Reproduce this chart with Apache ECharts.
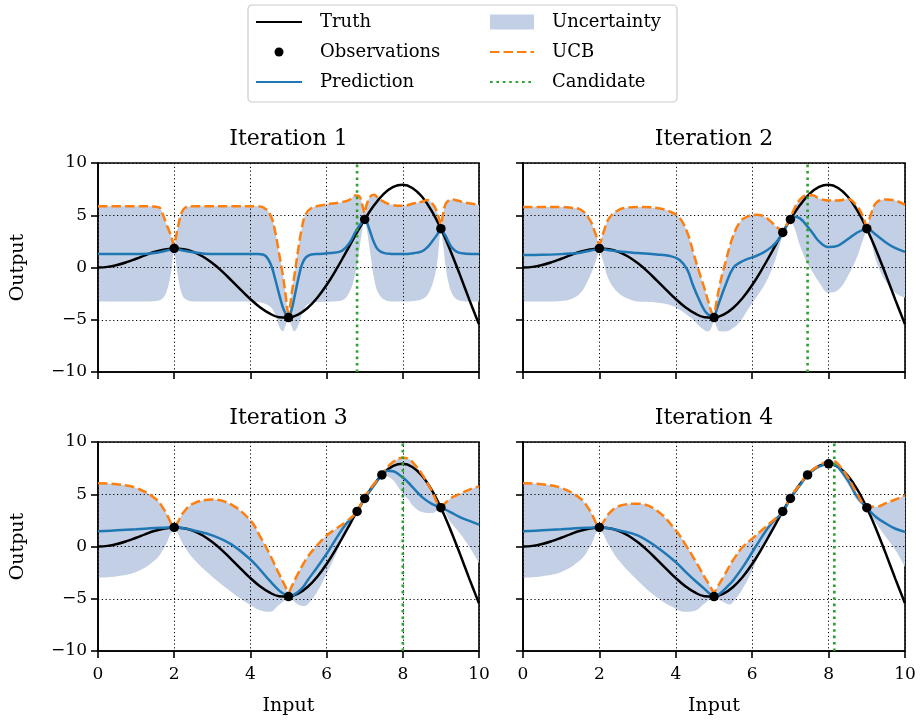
<!DOCTYPE html>
<html>
<head>
<meta charset="utf-8">
<script src="https://cdn.jsdelivr.net/npm/echarts@6/dist/echarts.min.js"></script>
<style>
  html, body { margin: 0; padding: 0; background: #ffffff; }
  #chart { width: 923px; height: 723px; }
</style>
</head>
<body>
<div id="chart"></div>
<script>
// ---- Ground-truth curve ----
const truthX = [0, 0.25, 0.5, 0.75, 1, 1.25, 1.5, 1.75, 2, 2.25, 2.5, 2.75, 3, 3.25, 3.5, 3.75, 4, 4.25, 4.5, 4.75,
  5, 5.25, 5.5, 5.75, 6, 6.25, 6.5, 6.75, 7, 7.25, 7.5, 7.75, 8, 8.25, 8.5, 8.75, 9, 9.25, 9.5, 9.75, 10];
const truthY = [0, 0.06, 0.24, 0.51, 0.84, 1.19, 1.5, 1.72, 1.82, 1.75, 1.5, 1.05, 0.42, -0.35, -1.23, -2.14, -3.03, -3.8, -4.4, -4.75,
  -4.79, -4.51, -3.88, -2.92, -1.68, -0.21, 1.4, 3.04, 4.6, 5.97, 7.04, 7.71, 7.91, 7.61, 6.79, 5.47, 3.71, 1.61, -0.71, -3.12, -5.44];

// ---- Observations (iteration k uses the first 3 + k points) ----
const obsX = [2, 5, 7, 9, 6.8, 7.45, 8.0];
const obsY = [1.82, -4.79, 4.6, 3.71, 3.36, 6.85, 7.91];

// ---- Next candidate proposed at each iteration ----
const candidates = [6.8, 7.45, 8.0, 8.15];
const iterTitles = ['Iteration 1', 'Iteration 2', 'Iteration 3', 'Iteration 4'];

// ---- Iteration 1 posterior ----
const xs1 = [0, 1, 1.3, 1.6, 1.7, 1.8, 1.9, 1.95, 2.0, 2.05, 2.1, 2.2, 2.3, 2.5, 2.8, 3.5, 4.2, 4.4, 4.55, 4.65,
  4.75, 4.85, 4.92, 5.0, 5.08, 5.15, 5.25, 5.35, 5.45, 5.6, 5.8, 6.1, 6.4, 6.6, 6.75, 6.85, 6.95, 7.0, 7.05, 7.15,
  7.25, 7.35, 7.5, 7.7, 8.0, 8.3, 8.5, 8.65, 8.8, 8.9, 8.95, 9.0, 9.05, 9.12, 9.2, 9.3, 9.45, 9.65, 10];
const mean1 = [1.28, 1.28, 1.32, 1.45, 1.53, 1.62, 1.72, 1.78, 1.82, 1.79, 1.74, 1.65, 1.57, 1.45, 1.32, 1.28, 1.28, 1.1, 0.15, -1.1,
  -2.5, -3.8, -4.4, -4.8, -4.05, -2.95, -1.2, 0.26, 0.95, 1.25, 1.3, 1.38, 1.6, 2.35, 3.35, 3.95, 4.4, 4.6, 4.4, 3.35,
  2.35, 1.72, 1.4, 1.3, 1.28, 1.38, 1.55, 1.95, 2.64, 3.15, 3.45, 3.71, 3.45, 3.05, 2.45, 1.85, 1.45, 1.32, 1.28];
const lower1 = [-3.25, -3.25, -3.25, -3.15, -2.95, -2.3, -0.85, 0.5, 1.65, 0.4, -0.9, -2.5, -3.05, -3.25, -3.25, -3.25, -3.3, -3.5, -3.85, -4.5,
  -5.6, -6.1, -5.6, -4.95, -5.6, -6.1, -5.6, -4.5, -3.7, -3.4, -3.3, -3.25, -3.15, -2.35, -0.6, 1.5, 3.9, 4.5, 3.76, 1.3,
  -1.1, -2.4, -3.05, -3.25, -3.25, -3.2, -3.05, -2.6, -1.34, 0.4, 2.17, 3.6, 2.4, 0.25, -1.45, -2.55, -3.12, -3.25, -3.25];
const ucb1 = [5.85, 5.85, 5.85, 5.75, 5.1, 4.1, 3.2, 2.6, 2.1, 3.0, 3.9, 5.3, 5.75, 5.85, 5.85, 5.85, 5.85, 5.6, 4.8, 3.45,
  1.4, -0.7, -2.5, -4.37, -2.6, -0.9, 1.6, 3.77, 5.1, 5.7, 5.9, 6.1, 6.25, 6.48, 6.9, 6.85, 5.8, 5.2, 6.0, 6.8,
  6.95, 6.65, 6.3, 6.0, 5.9, 6.15, 6.3, 6.45, 6.0, 5.3, 4.7, 4.1, 5.0, 6.05, 6.4, 6.5, 6.38, 6.2, 6.0];

// ---- Iteration 2 posterior ----
const xs2 = [0, 0.5, 1, 1.25, 1.5, 1.75, 1.9, 2.0, 2.1, 2.25, 2.5, 2.75, 3, 3.5, 3.85, 4.1, 4.3, 4.45, 4.6, 4.75,
  4.85, 4.95, 5.0, 5.05, 5.15, 5.3, 5.5, 5.7, 5.9, 6.1, 6.3, 6.5, 6.65, 6.8, 6.9, 7.0, 7.1, 7.25, 7.44, 7.6,
  7.75, 8, 8.25, 8.5, 8.75, 8.9, 9.0, 9.1, 9.25, 9.5, 9.75, 10];
const mean2 = [1.2, 1.22, 1.28, 1.33, 1.42, 1.6, 1.73, 1.82, 1.75, 1.65, 1.55, 1.45, 1.38, 1.25, 1.1, 0.72, -0.2, -1.7, -3.0, -4.1,
  -4.5, -4.75, -4.8, -4.25, -3.2, -1.7, -0.06, 0.52, 0.85, 1.1, 1.45, 1.95, 2.5, 3.3, 4.0, 4.6, 4.85, 4.7, 3.95, 3.2,
  2.5, 1.95, 2.1, 2.7, 3.35, 3.6, 3.71, 3.55, 3.1, 2.4, 1.85, 1.5];
const lower2 = [-3.25, -3.25, -3.2, -3.05, -2.45, -0.85, 0.55, 1.5, 0.55, -1.2, -2.45, -3.0, -3.25, -3.35, -3.6, -4.05, -4.55, -5.0, -5.55, -6.0,
  -6.12, -5.6, -4.85, -5.5, -6.1, -6.12, -5.8, -5.1, -3.95, -2.9, -1.8, -0.3, 1.25, 3.1, 3.92, 4.5, 3.85, 2.1, 0.45, -0.55,
  -1.4, -2.4, -2.15, -0.85, 1.05, 2.65, 3.4, 2.65, 0.55, -1.35, -2.45, -2.9];
const ucb2 = [5.8, 5.8, 5.8, 5.72, 5.55, 4.55, 3.2, 2.25, 3.3, 4.7, 5.5, 5.75, 5.8, 5.7, 5.35, 4.75, 3.35, 1.54, -0.3, -2.0,
  -3.25, -4.4, -4.5, -3.6, -1.66, 0.5, 3.0, 4.45, 4.92, 5.04, 4.9, 4.35, 3.85, 3.5, 4.08, 4.75, 5.6, 6.5, 6.95, 6.9,
  6.6, 6.4, 6.4, 6.55, 5.85, 4.9, 4.0, 5.0, 6.2, 6.5, 6.4, 6.0];

// ---- Iterations 3 and 4 posterior (shared input grid) ----
const xs34 = [0, 0.5, 1, 1.5, 1.75, 2, 2.25, 2.5, 3, 3.5, 4, 4.25, 4.5, 4.75, 4.9, 5, 5.1, 5.25, 5.4, 5.5,
  5.75, 6, 6.25, 6.5, 6.8, 7, 7.25, 7.45, 7.6, 7.75, 8, 8.15, 8.25, 8.5, 8.75, 9, 9.25, 9.5, 9.75, 10];
const mean3 = [1.45, 1.55, 1.65, 1.77, 1.8, 1.82, 1.75, 1.55, 1.07, 0.2, -1.25, -2.2, -3.25, -4.2, -4.6, -4.8, -4.7, -4.35, -3.8, -3.25,
  -2.0, -0.7, 0.75, 2.1, 3.3, 4.6, 5.85, 6.85, 7.25, 7.2, 6.6, 6.1, 5.7, 4.75, 4.1, 3.71, 3.3, 2.8, 2.45, 2.1];
const lower3 = [-3.0, -2.85, -2.45, -1.3, -0.05, 1.55, 0.1, -1.15, -2.9, -4.35, -5.6, -6.1, -6.25, -5.6, -5.15, -4.85, -5.1, -5.55, -5.7, -5.55,
  -4.35, -2.6, -0.7, 1.4, 3.2, 4.5, 5.7, 6.8, 6.7, 6.35, 5.05, 4.5, 3.95, 3.3, 3.2, 3.6, 2.35, 1.25, -0.05, -1.6];
const ucb3 = [6.05, 5.95, 5.6, 4.6, 3.45, 2.0, 3.3, 4.1, 4.5, 4.0, 2.5, 1.0, -0.7, -2.6, -3.7, -4.35, -3.7, -2.6, -1.6, -1.0,
  0.1, 1.05, 1.7, 2.35, 3.35, 4.75, 6.0, 6.95, 7.6, 8.1, 8.5, 8.4, 8.1, 6.95, 5.4, 3.9, 4.6, 5.05, 5.45, 5.75];
const mean4 = [1.45, 1.55, 1.65, 1.77, 1.8, 1.82, 1.75, 1.55, 1.07, -0.05, -1.5, -2.4, -3.25, -4.05, -4.55, -4.8, -4.65, -4.2, -3.65, -3.25,
  -2.0, -0.55, 0.9, 2.2, 3.3, 4.6, 5.85, 6.85, 7.3, 7.65, 7.9, 7.8, 7.6, 6.35, 4.75, 3.71, 2.8, 2.2, 1.7, 1.4];
const lower4 = [-3.0, -2.85, -2.45, -1.3, -0.05, 1.55, 0.1, -1.3, -3.25, -4.85, -5.95, -6.25, -6.15, -5.45, -5.0, -4.85, -5.05, -5.3, -5.55, -5.3,
  -4.05, -2.3, -0.2, 1.55, 3.2, 4.5, 5.75, 6.8, 7.2, 7.55, 7.8, 7.6, 7.35, 6.0, 4.4, 3.6, 2.2, 0.9, -0.35, -1.95];
const ucb4 = [6.05, 5.95, 5.6, 4.6, 3.45, 2.0, 3.15, 3.85, 4.1, 3.45, 1.55, 0.2, -1.3, -2.9, -3.8, -4.35, -3.8, -2.9, -1.9, -1.3,
  -0.05, 0.75, 1.55, 2.35, 3.35, 4.7, 5.95, 6.95, 7.4, 7.75, 8.15, 8.15, 7.9, 6.65, 5.05, 3.85, 3.8, 4.15, 4.5, 4.9];

const panels = [
  { xs: xs1, mean: mean1, lower: lower1, ucb: ucb1 },
  { xs: xs2, mean: mean2, lower: lower2, ucb: ucb2 },
  { xs: xs34, mean: mean3, lower: lower3, ucb: ucb3 },
  { xs: xs34, mean: mean4, lower: lower4, ucb: ucb4 }
];

// ---- Styling ----
const FONT = 'DejaVu Serif';
const BAND = '#c3cfe4';
const C_PRED = '#1f77b4';
const C_UCB = '#ff7f0e';
const C_CAND = '#2ca02c';
const SMOOTH = 0.4;
const LW = 2.5;

const grids = [
  { left: 98, top: 163, width: 381, height: 209 },
  { left: 523, top: 163, width: 382, height: 209 },
  { left: 98, top: 442, width: 381, height: 209 },
  { left: 523, top: 442, width: 382, height: 209 }
].map(g => Object.assign(g, { show: true, borderColor: '#000', borderWidth: 1.6, backgroundColor: 'transparent' }));

const minusFmt = v => (v < 0 ? '\u2212' + Math.abs(v) : String(v));

const xAxes = grids.map((g, i) => {
  const bottom = i >= 2;
  return {
    type: 'value', gridIndex: i, min: 0, max: 10, interval: 2, z: 1.5,
    name: bottom ? 'Input' : '', nameLocation: 'middle', nameGap: 46,
    nameTextStyle: { fontFamily: FONT, fontSize: 19, color: '#000' },
    axisLine: { show: true, onZero: false, lineStyle: { color: '#000', width: 1.6 } },
    axisTick: { show: true, inside: false, length: 7, lineStyle: { color: '#000', width: 1.6 } },
    axisLabel: { show: bottom, margin: 15, fontFamily: FONT, fontSize: 17, color: '#000', formatter: minusFmt },
    splitLine: { show: true, lineStyle: { color: '#000', width: 1, type: [1.2, 2.6] } }
  };
});

const yAxes = grids.map((g, i) => {
  const left = i % 2 === 0;
  return {
    type: 'value', gridIndex: i, min: -10, max: 10, interval: 5, z: 1.5,
    name: left ? 'Output' : '', nameLocation: 'middle', nameGap: 70,
    nameTextStyle: { fontFamily: FONT, fontSize: 19, color: '#000' },
    axisLine: { show: true, onZero: false, lineStyle: { color: '#000', width: 1.6 } },
    axisTick: { show: true, inside: false, length: 7, lineStyle: { color: '#000', width: 1.6 } },
    axisLabel: { show: left, margin: 11, fontFamily: FONT, fontSize: 17, color: '#000', formatter: minusFmt },
    splitLine: { show: true, lineStyle: { color: '#000', width: 1, type: [1.2, 2.6] } }
  };
});

const titles = grids.map((g, i) => ({
  text: iterTitles[i],
  left: g.left + g.width / 2,
  top: g.top - 35,
  textAlign: 'center',
  padding: 0,
  textStyle: { fontFamily: FONT, fontSize: 22, fontWeight: 'normal', color: '#000' }
}));

const series = [];
panels.forEach((p, i) => {
  const axes = { xAxisIndex: i, yAxisIndex: i };
  const stackId = 'band' + i;
  // Band rows are [value, input] so that the stack runs along the output axis.
  const bandEncode = { x: 1, y: 0 };
  // lower edge of the uncertainty band (invisible base of the stack)
  series.push(Object.assign({
    type: 'line', stack: stackId, stackStrategy: 'all', silent: true,
    data: p.xs.map((x, j) => [p.lower[j], x]), encode: bandEncode,
    symbol: 'none', smooth: SMOOTH, z: 1,
    lineStyle: { width: 0, opacity: 0 }
  }, axes));
  // band thickness stacked on top of the lower edge
  series.push(Object.assign({
    name: 'Uncertainty', type: 'line', stack: stackId, stackStrategy: 'all', silent: true,
    data: p.xs.map((x, j) => [p.ucb[j] - p.lower[j], x]), encode: bandEncode,
    symbol: 'none', smooth: SMOOTH, z: 1,
    color: BAND, itemStyle: { color: BAND },
    lineStyle: { width: 0, opacity: 0 },
    areaStyle: { color: BAND, opacity: 1 }
  }, axes));
  series.push(Object.assign({
    name: 'Truth', type: 'line', silent: true,
    data: truthX.map((x, j) => [x, truthY[j]]),
    symbol: 'none', smooth: SMOOTH, z: 3, color: '#000',
    lineStyle: { color: '#000', width: LW }
  }, axes));
  series.push(Object.assign({
    name: 'Prediction', type: 'line', silent: true,
    data: p.xs.map((x, j) => [x, p.mean[j]]),
    symbol: 'none', smooth: SMOOTH, z: 3, color: C_PRED,
    lineStyle: { color: C_PRED, width: LW }
  }, axes));
  series.push(Object.assign({
    name: 'UCB', type: 'line', silent: true,
    data: p.xs.map((x, j) => [x, p.ucb[j]]),
    symbol: 'none', smooth: SMOOTH, z: 3, color: C_UCB,
    lineStyle: { color: C_UCB, width: LW, type: [9.5, 4] }
  }, axes));
  series.push(Object.assign({
    name: 'Candidate', type: 'line', silent: true,
    data: [[candidates[i], -10], [candidates[i], 10]],
    symbol: 'none', z: 4, color: C_CAND,
    lineStyle: { color: C_CAND, width: 2.6, type: [2.6, 3.8] }
  }, axes));
  const n = 4 + i;
  series.push(Object.assign({
    name: 'Observations', type: 'scatter', silent: true,
    data: obsX.slice(0, n).map((x, j) => [x, obsY[j]]),
    symbol: 'circle', symbolSize: 9.5, z: 5,
    itemStyle: { color: '#000', opacity: 1 }
  }, axes));
});

const legendText = { fontFamily: FONT, fontSize: 18, color: '#000', lineHeight: 20, padding: [0, 0, 0, 13] };
const lineOnly = name => ({ name: name, itemStyle: { opacity: 0 } });

const option = {
  animation: false,
  backgroundColor: '#ffffff',
  title: titles,
  grid: grids,
  xAxis: xAxes,
  yAxis: yAxes,
  legend: [
    {
      data: [lineOnly('Truth'), { name: 'Observations', itemStyle: { color: '#000', opacity: 1 } }, lineOnly('Prediction')],
      orient: 'vertical', left: 255, top: 12, padding: 0,
      itemWidth: 46, itemHeight: 9, itemGap: 10,
      selectedMode: false, textStyle: legendText
    },
    {
      data: [{ name: 'Uncertainty', icon: 'rect' }, lineOnly('UCB'), lineOnly('Candidate')],
      orient: 'vertical', left: 489, top: 12, padding: 0,
      itemWidth: 44, itemHeight: 15, itemGap: 10,
      selectedMode: false, textStyle: legendText
    }
  ],
  graphic: [{
    type: 'rect', z: -10, silent: true,
    shape: { x: 248, y: 5, width: 429, height: 97, r: 4 },
    style: { fill: '#ffffff', stroke: '#cccccc', lineWidth: 1.2 }
  }],
  series: series
};

const chart = echarts.init(document.getElementById('chart'), null, { renderer: 'canvas' });
chart.setOption(option);
</script>
</body>
</html>
